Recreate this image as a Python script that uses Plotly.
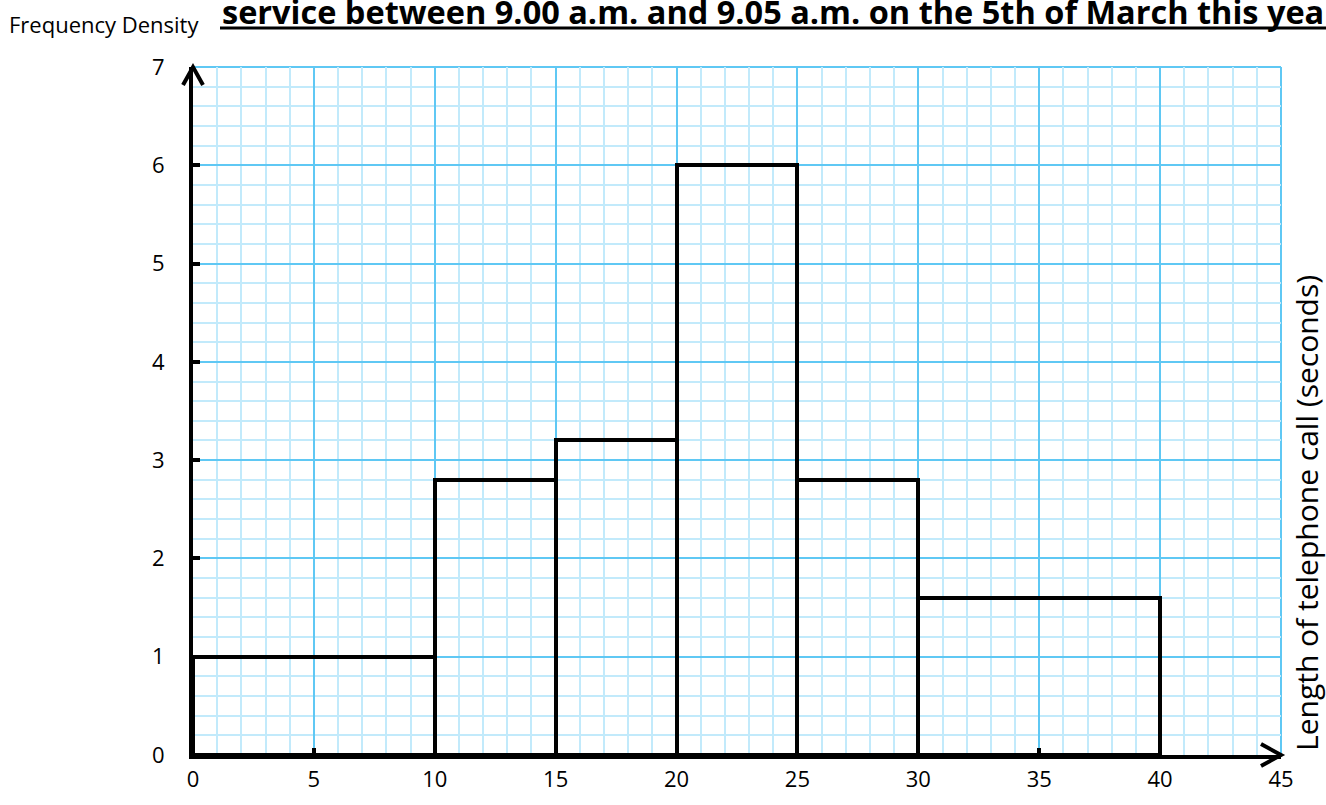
import plotly.graph_objects as go

# Class intervals (seconds) and frequency densities
class_lower = [0, 10, 15, 20, 25, 30]
class_upper = [10, 15, 20, 25, 30, 40]
freq_density = [1.0, 2.8, 3.2, 6.0, 2.8, 1.6]

x_ticks = [0, 5, 10, 15, 20, 25, 30, 35, 40, 45]
y_ticks = [0, 1, 2, 3, 4, 5, 6, 7]

title_text = "service between 9.00 a.m. and 9.05 a.m. on the 5th of March this year"
y_title = "Frequency Density"
x_title = "Length of telephone call (seconds)"

FONT = "Open Sans, Calibri, Arial, sans-serif"
MAJOR = "#5fc8f4"
MINOR = "#c2eafb"

mids = [(a + b) / 2 for a, b in zip(class_lower, class_upper)]
widths = [b - a for a, b in zip(class_lower, class_upper)]

fig = go.Figure()
fig.add_trace(go.Bar(
    x=mids, y=freq_density, width=widths, base=0,
    marker=dict(color="rgba(0,0,0,0)", line=dict(color="black", width=4)),
    hoverinfo="skip",
))

W, H = 1326, 805
L, R, T, B = 193, 45, 67, 50
pw, ph = W - L - R, H - T - B

fig.update_layout(
    width=W, height=H,
    margin=dict(l=L, r=R, t=T, b=B),
    paper_bgcolor="white", plot_bgcolor="white",
    showlegend=False,
    font=dict(family=FONT, size=22, color="black"),
    bargap=0,
)
fig.update_xaxes(
    range=[0, 45], tickvals=x_ticks, ticktext=[str(v) for v in x_ticks],
    tickfont=dict(size=22),
    showgrid=True, gridcolor=MAJOR, gridwidth=2,
    minor=dict(dtick=1, tick0=0, showgrid=True, gridcolor=MINOR, gridwidth=2, ticks=""),
    showline=True, linecolor="black", linewidth=4,
    ticks="inside", ticklen=7, tickwidth=4, tickcolor="black",
    ticklabelstandoff=2,
    zeroline=False, mirror=False, fixedrange=True,
)
fig.update_yaxes(
    range=[0, 7], tickvals=y_ticks, ticktext=[str(v) for v in y_ticks],
    tickfont=dict(size=22),
    showgrid=True, gridcolor=MAJOR, gridwidth=2,
    minor=dict(dtick=0.2, tick0=0, showgrid=True, gridcolor=MINOR, gridwidth=2, ticks=""),
    showline=True, linecolor="black", linewidth=4,
    ticks="inside", ticklen=7, tickwidth=4, tickcolor="black",
    ticklabelstandoff=20,
    zeroline=False, mirror=False, fixedrange=True,
)

# Right and top borders of the grid
fig.add_shape(type="line", xref="paper", yref="paper", x0=1, x1=1, y0=0, y1=1,
              line=dict(color=MAJOR, width=2), layer="below")
fig.add_shape(type="line", xref="paper", yref="paper", x0=0, x1=1, y0=1, y1=1,
              line=dict(color=MAJOR, width=2), layer="below")

# Arrowheads on the axes
px_x, px_y = 1 / pw, 1 / ph
fig.add_shape(type="path", xref="paper", yref="paper",
              path=f"M {-10*px_x},{1-18*px_y} L 0,1 L {10*px_x},{1-18*px_y}",
              line=dict(color="black", width=4))
fig.add_shape(type="path", xref="paper", yref="paper",
              path=f"M {1-20*px_x},{11*px_y} L 1,0 L {1-20*px_x},{-11*px_y}",
              line=dict(color="black", width=4))

# Titles
fig.add_annotation(text=y_title, xref="paper", yref="paper",
                   x=(7 - L) * px_x, y=(H - B - 24) * px_y,
                   xanchor="left", yanchor="middle", showarrow=False,
                   font=dict(family=FONT, size=22, color="black"))
fig.add_annotation(text=f"<b>{title_text}</b>", xref="paper", yref="paper",
                   x=(220 - L) * px_x, y=(H - B - 12) * px_y,
                   xanchor="left", yanchor="middle", showarrow=False,
                   font=dict(family=FONT, size=32.5, color="black"))
fig.add_shape(type="line", xref="paper", yref="paper",
              x0=(220 - L) * px_x, x1=(W + 5 - L) * px_x,
              y0=(H - B - 28) * px_y, y1=(H - B - 28) * px_y,
              line=dict(color="black", width=3))
fig.add_annotation(text=x_title, xref="paper", yref="paper",
                   x=(1306 - L) * px_x, y=(H - B - 513) * px_y,
                   xanchor="center", yanchor="middle", textangle=-90, showarrow=False,
                   font=dict(family=FONT, size=30, color="black"))

fig.write_html("out.html")
